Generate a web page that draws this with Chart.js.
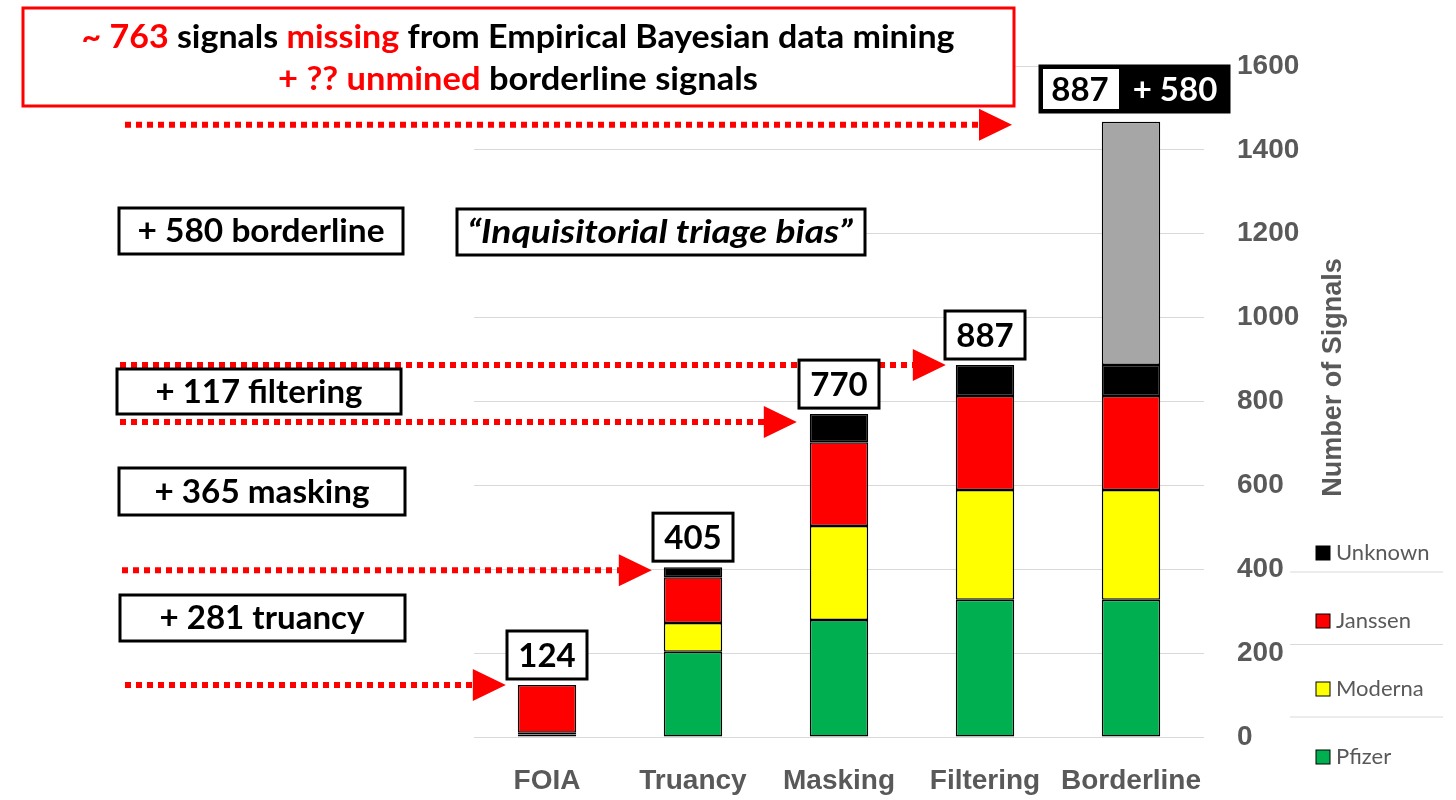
<!DOCTYPE html>
<html>
<head>
    <meta charset="UTF-8">
    <title>Number of Signals</title>
    <script src="https://cdn.jsdelivr.net/npm/chart.js"></script>
    <style>
        body { margin: 0; background: #fff; }
    </style>
</head>
<body>

<canvas id="signalsChart" width="1456" height="800"></canvas>

<script>
    // Data
    var categories = ['FOIA', 'Truancy', 'Masking', 'Filtering', 'Borderline'];
    var pfizer     = [6, 203, 279, 327, 327];
    var moderna    = [4, 69, 224, 262, 262];
    var janssen    = [114, 109, 200, 224, 224];
    var unknown    = [0, 24, 67, 74, 74];
    var borderline = [null, null, null, null, 580];
    var yTicks     = [0, 200, 400, 600, 800, 1000, 1200, 1400, 1600];

    var totals = categories.map(function (c, i) {
        return pfizer[i] + moderna[i] + janssen[i] + unknown[i];
    });

    var gray = '#595959';
    var annFont = 'Lato, "Open Sans", sans-serif';
    var axisFont = '"Liberation Sans", Arial, sans-serif';

    function box(ctx, l, t, w, h, lw, stroke, fill) {
        ctx.save();
        ctx.fillStyle = fill || '#fff';
        ctx.fillRect(l, t, w, h);
        ctx.lineWidth = lw;
        ctx.strokeStyle = stroke || '#000';
        ctx.strokeRect(l, t, w, h);
        ctx.restore();
    }

    // text pieces [text, colour], centred on cx; squeezed/stretched to width w if given
    function richText(ctx, parts, cx, cy, font, w) {
        ctx.save();
        ctx.font = font;
        ctx.textBaseline = 'middle';
        ctx.textAlign = 'left';
        var total = 0;
        parts.forEach(function (p) { total += ctx.measureText(p[0]).width; });
        var sx = w ? w / total : 1;
        ctx.translate(cx, cy);
        ctx.scale(sx, 1);
        var x = -total / 2;
        parts.forEach(function (p) {
            ctx.fillStyle = p[1];
            ctx.fillText(p[0], x, 0);
            x += ctx.measureText(p[0]).width;
        });
        ctx.restore();
    }

    function arrow(ctx, x0, tip, yy) {
        ctx.save();
        ctx.strokeStyle = '#ff0000';
        ctx.fillStyle = '#ff0000';
        ctx.lineWidth = 6;
        ctx.setLineDash([6, 5]);
        ctx.beginPath();
        ctx.moveTo(x0, yy);
        ctx.lineTo(tip - 30, yy);
        ctx.stroke();
        ctx.beginPath();
        ctx.moveTo(tip - 33, yy - 16);
        ctx.lineTo(tip, yy);
        ctx.lineTo(tip - 33, yy + 16);
        ctx.closePath();
        ctx.fill();
        ctx.restore();
    }

    var annotations = {
        id: 'annotations',
        afterDraw: function (chart) {
            var ctx = chart.ctx;
            var xs = chart.scales.x;
            var ys = chart.scales.y;
            var half = xs.width / categories.length * 0.2;

            // arrows towards the bar tops
            arrow(ctx, 125, xs.getPixelForValue(0) - half - 12, ys.getPixelForValue(totals[0]));
            arrow(ctx, 122, xs.getPixelForValue(1) - half - 12, ys.getPixelForValue(totals[1]) + 3);
            arrow(ctx, 120, xs.getPixelForValue(2) - half - 13, ys.getPixelForValue(totals[2]) + 8);
            arrow(ctx, 120, xs.getPixelForValue(3) - half - 10, ys.getPixelForValue(totals[3]));
            arrow(ctx, 125, 1012, ys.getPixelForValue(totals[4] + borderline[4]) + 3);

            // boxed totals above the first four bars
            var f = 'bold 33px ' + annFont;
            for (var i = 0; i < 4; i++) {
                var cx = xs.getPixelForValue(i);
                var top = ys.getPixelForValue(totals[i]) - 54;
                box(ctx, cx - 40, top, 80, 48, 3);
                richText(ctx, [[String(totals[i]), '#000']], cx, top + 25, f);
            }

            // 887 | + 580 box above Borderline
            box(ctx, 1040, 66, 189, 46, 3, '#000', '#000');
            ctx.fillStyle = '#fff';
            ctx.fillRect(1043, 69, 76, 40);
            richText(ctx, [[String(totals[4]), '#000']], 1080, 90, f);
            richText(ctx, [['+ ' + borderline[4], '#fff']], 1175, 90, f);

            // side labels
            var sf = 'bold 33px ' + annFont;
            box(ctx, 119, 208, 284, 46, 3);
            richText(ctx, [['+ ' + borderline[4] + ' borderline', '#000']], 261, 231, sf, 247);
            box(ctx, 117, 369, 284, 45, 3);
            richText(ctx, [['+ ' + (totals[3] - totals[2]) + ' filtering', '#000']], 259, 392, sf, 207);
            box(ctx, 119, 468, 286, 47, 3);
            richText(ctx, [['+ ' + (totals[2] - totals[1]) + ' masking', '#000']], 262, 492, sf, 215);
            box(ctx, 120, 595, 285, 46, 3);
            richText(ctx, [['+ ' + (totals[1] - totals[0]) + ' truancy', '#000']], 262, 618, sf, 205);
            box(ctx, 457, 209, 408, 46, 3);
            richText(ctx, [['\u201CInquisitorial triage bias\u201D', '#000']], 660, 232, 'italic bold 33px ' + annFont, 385);

            // headline
            box(ctx, 23, 8, 991, 98, 3, '#ff0000');
            var hf = 'bold 33px ' + annFont;
            richText(ctx, [
                ['~ ' + (totals[3] - totals[0]), '#ff0000'],
                [' signals ', '#000'],
                ['missing', '#ff0000'],
                [' from Empirical Bayesian data mining', '#000']
            ], 518, 37, hf, 873);
            richText(ctx, [
                ['+ ?? unmined', '#ff0000'],
                [' borderline signals', '#000']
            ], 518, 79, hf, 480);

            // axis title, reading bottom to top
            ctx.save();
            ctx.translate(ys.right + 34, (chart.chartArea.top + chart.chartArea.bottom) / 2 - 24);
            ctx.rotate(-Math.PI / 2);
            ctx.font = 'bold 27px ' + axisFont;
            ctx.fillStyle = gray;
            ctx.textAlign = 'center';
            ctx.textBaseline = 'middle';
            ctx.fillText('Number of Signals', 0, 0);
            ctx.restore();

            // legend, top to bottom
            var items = chart.data.datasets.slice(0, 4).reverse();
            ctx.save();
            ctx.font = '22px ' + annFont;
            ctx.textBaseline = 'middle';
            items.forEach(function (ds, k) {
                var ly = 553 + k * 68;
                ctx.fillStyle = ds.backgroundColor;
                ctx.fillRect(1316, ly - 7, 14, 14);
                ctx.lineWidth = 1;
                ctx.strokeStyle = '#000';
                ctx.strokeRect(1316, ly - 7, 14, 14);
                ctx.fillStyle = gray;
                ctx.fillText(ds.label, 1336, ly);
                if (k < 3) {
                    ctx.strokeStyle = '#d9d9d9';
                    ctx.beginPath();
                    ctx.moveTo(1290, 572 + k * 72.5);
                    ctx.lineTo(1443, 572 + k * 72.5);
                    ctx.stroke();
                }
            });
            ctx.restore();
        }
    };

    function series(label, data, colour) {
        return {
            label: label,
            data: data,
            backgroundColor: colour,
            borderColor: '#000',
            borderWidth: 1.5,
            borderSkipped: false,
            barPercentage: 0.4,
            categoryPercentage: 1
        };
    }

    new Chart('signalsChart', {
        type: 'bar',
        data: {
            labels: categories,
            datasets: [
                series('Pfizer', pfizer, '#00b050'),
                series('Moderna', moderna, '#ffff00'),
                series('Janssen', janssen, '#ff0000'),
                series('Unknown', unknown, '#000000'),
                series('Borderline', borderline, '#a6a6a6')
            ]
        },
        options: {
            responsive: false,
            animation: false,
            layout: {
                padding: { left: 474, right: 156, top: 66, bottom: 5 }
            },
            plugins: {
                legend: { display: false },
                tooltip: { enabled: false }
            },
            scales: {
                x: {
                    stacked: true,
                    afterFit: function (scale) { scale.height = 58; },
                    grid: { display: false, drawTicks: false },
                    border: { display: false },
                    ticks: {
                        padding: 27,
                        maxRotation: 0,
                        minRotation: 0,
                        color: gray,
                        font: { family: axisFont, size: 28, weight: 'bold' }
                    }
                },
                y: {
                    stacked: true,
                    position: 'right',
                    min: 0,
                    max: 1600,
                    afterBuildTicks: function (scale) {
                        scale.ticks = yTicks.map(function (v) { return { value: v }; });
                    },
                    afterFit: function (scale) { scale.width = 96; },
                    grid: { color: '#d9d9d9', drawTicks: false },
                    border: { display: false },
                    ticks: {
                        padding: 33,
                        color: gray,
                        callback: function (v) { return String(v); },
                        font: { family: axisFont, size: 28, weight: 'bold' }
                    }
                }
            }
        },
        plugins: [annotations]
    });
</script>

</body>
</html>
